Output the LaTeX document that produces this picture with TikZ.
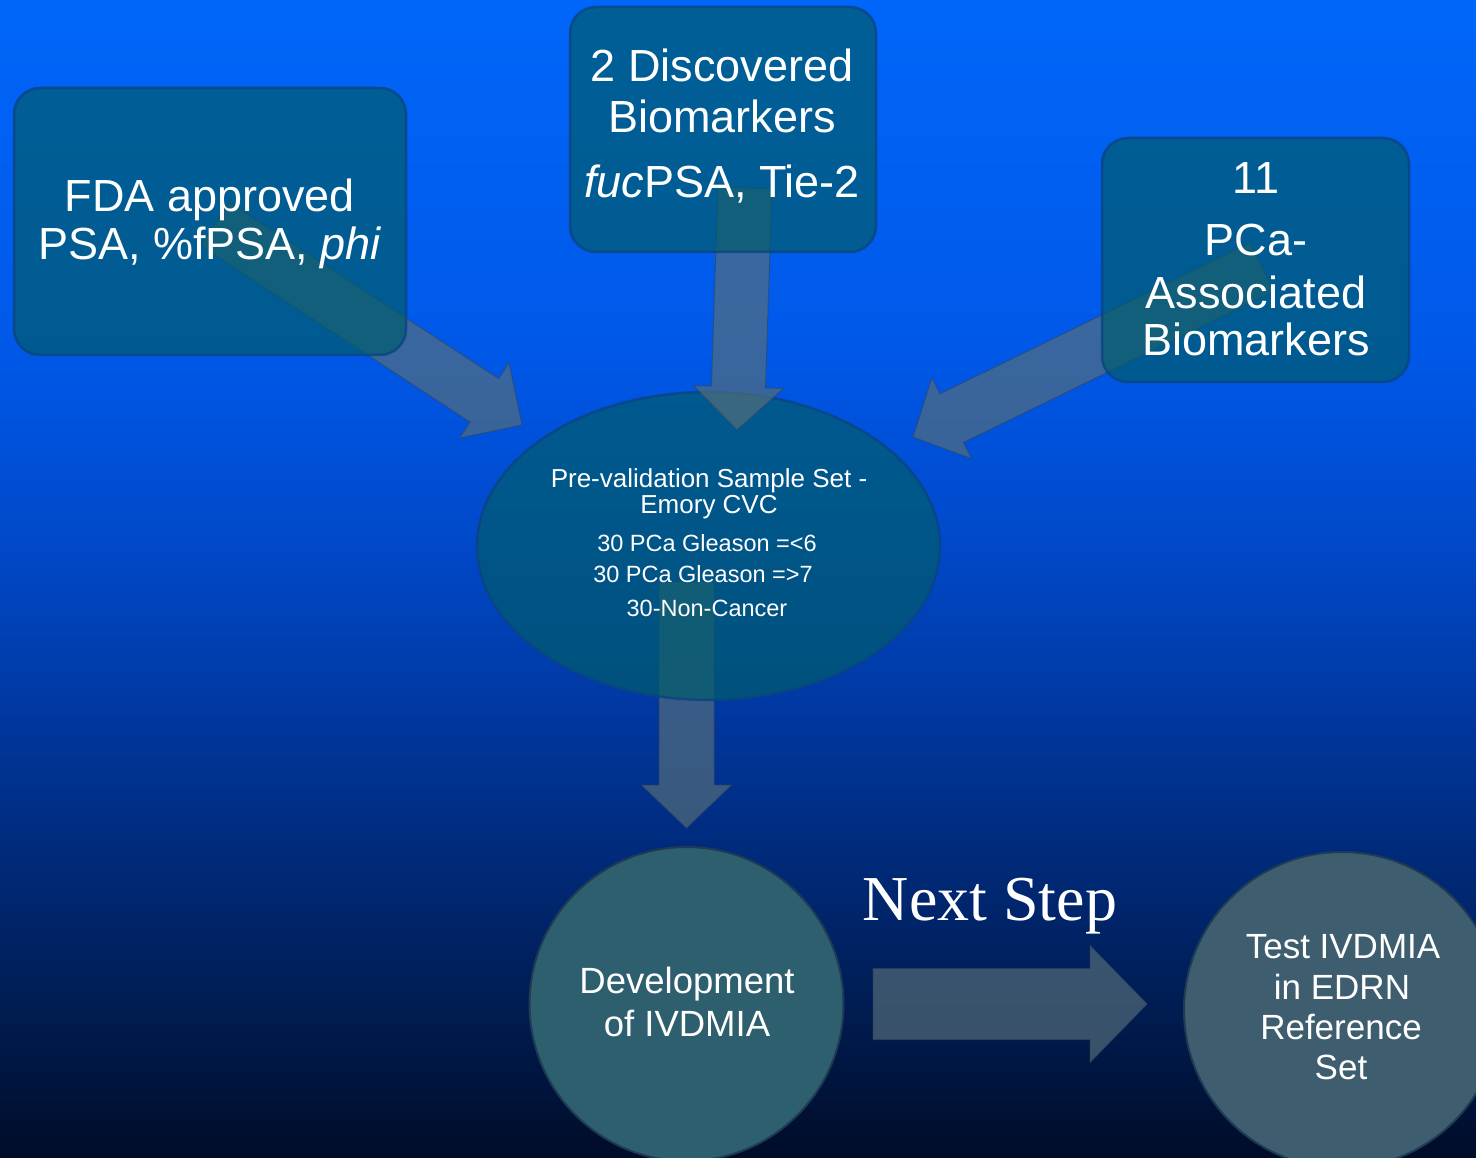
\documentclass[tikz,border=0pt]{standalone}
\usepackage{fontspec}
\setmainfont{Liberation Sans}
\newfontfamily\nsserif{Liberation Serif}
\usetikzlibrary{calc,shapes.geometric}

\definecolor{bgA}{RGB}{0,102,250}
\definecolor{bgB}{RGB}{0,88,232}
\definecolor{bgC}{RGB}{0,72,200}
\definecolor{bgD}{RGB}{0,52,150}
\definecolor{bgE}{RGB}{0,38,110}
\definecolor{bgF}{RGB}{0,24,70}
\definecolor{bgG}{RGB}{0,12,40}
\definecolor{arrowc}{RGB}{85,110,122}
\definecolor{arrowline}{RGB}{45,70,95}
\definecolor{boxc}{RGB}{0,92,107}
\definecolor{boxline}{RGB}{10,68,130}
\definecolor{circA}{RGB}{46,95,110}
\definecolor{circB}{RGB}{62,94,112}
\definecolor{circline}{RGB}{30,58,85}

\newcommand{\setfs}[1]{\fontsize{#1pt}{#1pt}\selectfont}

% block arrow: #1 start, #2 tip, #3 half shaft width, #4 half head width, #5 head length
\newcommand{\blockarrow}[5]{%
  \coordinate (bah) at ($(#2)!#5!(#1)$);
  \draw[blockarr] ($(#1)!#3!90:(#2)$) -- ($(bah)!#3!90:(#2)$) -- ($(bah)!#4!90:(#2)$)
    -- (#2) -- ($(bah)!#4!-90:(#2)$) -- ($(bah)!#3!-90:(#2)$) -- ($(#1)!#3!-90:(#2)$) -- cycle;
}

\tikzset{
  blockarr/.style={fill=arrowc, fill opacity=0.67, draw=arrowline, draw opacity=0.6, line width=1pt, line join=miter},
  box/.style={rectangle, draw=boxline, draw opacity=0.8, line width=2.5pt, fill=boxc, fill opacity=0.69, rounded corners=26pt, inner sep=0pt},
  ell/.style={ellipse, draw=boxline, draw opacity=0.8, line width=2.5pt, fill=boxc, fill opacity=0.69, inner sep=0pt},
  circ/.style={circle, draw=circline, line width=2pt, inner sep=0pt, minimum size=314pt},
  txt/.style={text=white, inner sep=0pt, anchor=base}
}

\begin{document}
\begin{tikzpicture}[x=1pt,y=-1pt]
\useasboundingbox (0,0) rectangle (1476,1158);
\clip (0,0) rectangle (1476,1158);
% background gradient
\shade[top color=bgA, bottom color=bgB] (0,0) rectangle (1476,351);
\shade[top color=bgB, bottom color=bgC] (0,350) rectangle (1476,551);
\shade[top color=bgC, bottom color=bgD] (0,550) rectangle (1476,751);
\shade[top color=bgD, bottom color=bgE] (0,750) rectangle (1476,901);
\shade[top color=bgE, bottom color=bgF] (0,900) rectangle (1476,1051);
\shade[top color=bgF, bottom color=bgG] (0,1050) rectangle (1476,1158);

% arrow endpoints
\coordinate (a1s) at (215,224);
\coordinate (a1e) at (522,425);
\coordinate (a2s) at (745,188);
\coordinate (a2e) at (737,430);
\coordinate (a3s) at (1262,267);
\coordinate (a3e) at (913,437);
\coordinate (a4s) at (686.5,582);
\coordinate (a4e) at (686.5,828);
\coordinate (a5s) at (873,1004);
\coordinate (a5e) at (1147,1004);

% arrow from ellipse to development (under ellipse)
\blockarrow{a4s}{a4e}{27.5pt}{45pt}{43pt}

% ellipse
\node[ell, minimum width=463pt, minimum height=308pt] (ell) at (708.5,546) {};

% arrows into ellipse
\blockarrow{a1s}{a1e}{26pt}{45pt}{45pt}
\blockarrow{a2s}{a2e}{27pt}{45pt}{43pt}
\blockarrow{a3s}{a3e}{27pt}{45pt}{43pt}

% boxes
\node[box, minimum width=392pt, minimum height=267pt] (b1) at (210,221.5) {};
\node[box, minimum width=306pt, minimum height=245pt] (b2) at (723,129.5) {};
\node[box, minimum width=307pt, minimum height=244pt] (b3) at (1255.5,260) {};

% circles
\node[circ, fill=circA] (c1) at (686.5,1004) {};
\node[circ, fill=circB, minimum size=316pt] (c2) at (1342,1010) {};

% next step arrow
\blockarrow{a5s}{a5e}{35.5pt}{58.5pt}{57pt}

% texts
\node[txt, font=\setfs{45}] (t1a) at (210,212) {FDA approved};
\node[txt, font=\setfs{45}] (t1b) at (210,260) {PSA, \%fPSA, \textit{phi}};

\node[txt, font=\setfs{45}] (t2a) at (722,82) {2 Discovered};
\node[txt, font=\setfs{45}] (t2b) at (722,133) {Biomarkers};
\node[txt, font=\setfs{45}] (t2c) at (722,198) {\textit{fuc}PSA, Tie-2};

\node[txt, font=\setfs{45}] (t3a) at (1256,194) {11};
\node[txt, font=\setfs{45}] (t3b) at (1256,256) {PCa-};
\node[txt, font=\setfs{45}] (t3c) at (1256,309) {Associated};
\node[txt, font=\setfs{45}] (t3d) at (1256,356) {Biomarkers};

\node[txt, font=\setfs{26}] (tea) at (709,487) {Pre-validation Sample Set -};
\node[txt, font=\setfs{26}] (teb) at (709,513) {Emory CVC};
\node[txt, font=\setfs{23.5}] (tec) at (707,551) {30 PCa Gleason =<6};
\node[txt, font=\setfs{23.5}] (ted) at (703,582) {30 PCa Gleason =>7};
\node[txt, font=\setfs{23.5}] (tee) at (707,616) {30-Non-Cancer};

\node[txt, font=\setfs{36.5}] (tc1a) at (687,993) {Development};
\node[txt, font=\setfs{36.5}] (tc1b) at (687,1036) {of IVDMIA};

\node[txt, font=\setfs{35}] (tc2a) at (1343,958) {Test IVDMIA};
\node[txt, font=\setfs{35}] (tc2b) at (1342,999) {in EDRN};
\node[txt, font=\setfs{35}] (tc2c) at (1341,1039) {Reference};
\node[txt, font=\setfs{35}] (tc2d) at (1341,1079) {Set};

\node[txt, font=\nsserif\setfs{64}] (tns) at (990,920) {Next Step};
\end{tikzpicture}
\end{document}
